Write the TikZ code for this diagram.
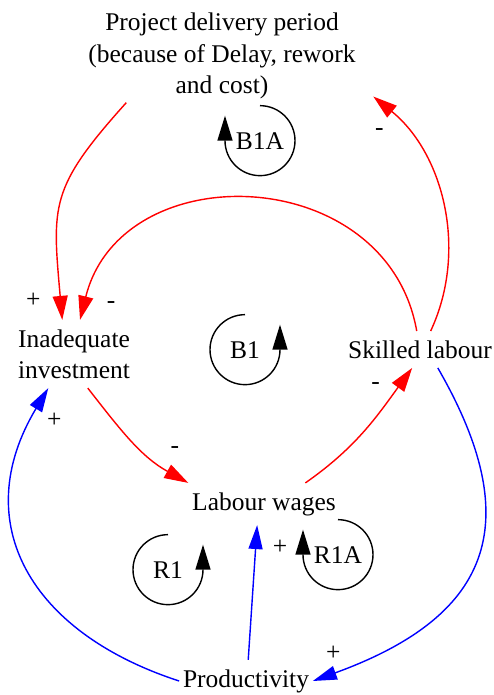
\documentclass[tikz,border=0pt]{standalone}
\usepackage{fontspec}
\setmainfont{Liberation Serif}
\usetikzlibrary{arrows.meta}

\begin{document}
\begin{tikzpicture}[
    var/.style={rectangle, align=center, inner xsep=2pt, inner ysep=5.2pt, font=\fontsize{14.5}{17.8}\selectfont},
    loopname/.style={circle, minimum size=1.4cm, inner sep=0pt, font=\fontsize{14.5}{17.8}\selectfont},
    sign/.style={inner sep=1pt, pos=1, font=\fontsize{14.5}{17.8}\selectfont},
    redlink/.style={-{Triangle[length=0.48cm,width=0.3cm]}, draw=red, line width=0.8pt},
    bluelink/.style={-{Triangle[length=0.48cm,width=0.28cm]}, draw=blue, line width=0.8pt},
    looparrow/.style={-{Triangle[length=0.5cm,width=0.3cm]}, line width=0.8pt}
]
\useasboundingbox (0,0) rectangle (9.88,13.9);

% variables
\node[var, inner ysep=2pt, minimum width=6.04cm] (proj) at (4.44,12.78) {Project delivery period\\(because of Delay, rework\\and cost)};
\node[var] (inv) at (1.48,6.82) {Inadequate\\investment};
\node[var] (skl) at (8.40,6.91) {Skilled labour};
\node[var] (wag) at (5.28,3.82) {Labour wages};
\node[var] (prod) at (4.92,0.28) {Productivity};

% loop markers
\node[loopname] (b1a) at (5.20,11.08) {B1A};
\node[loopname] (b1) at (4.90,6.90) {B1};
\node[loopname] (r1) at (3.36,2.50) {R1};
\node[loopname] (r1a) at (6.76,2.80) {R1A};

\draw[looparrow] (b1a.90) arc[start angle=90, end angle=-180, radius=0.7cm] -- ++(0,0.5);
\draw[looparrow] (b1.90) arc[start angle=90, end angle=360, radius=0.7cm] -- ++(0,0.5);
\draw[looparrow] (r1.90) arc[start angle=90, end angle=360, radius=0.7cm] -- ++(0,0.5);
\draw[looparrow] (r1a.90) arc[start angle=90, end angle=-180, radius=0.7cm] -- ++(0,0.5);

% links
\draw[redlink] (proj.206) to[out=228, in=95, looseness=1.3] node[sign, xshift=-0.58cm, yshift=0.40cm] {+} (inv.109);
\draw[redlink] (skl.100) to[out=100, in=76, looseness=1.3] node[sign, xshift=0.62cm, yshift=0.30cm] {-} (inv.80);
\draw[redlink] (skl.60) to[out=65, in=-39, looseness=0.95] node[sign, xshift=0.12cm, yshift=-0.70cm] {-} (proj.345);
\draw[redlink] (inv.292) to[out=-52, in=151] node[sign, xshift=-0.27cm, yshift=0.66cm] {-} (wag.north west);
\draw[redlink] (wag.27) to[out=35, in=234] node[sign, xshift=-0.73cm, yshift=-0.36cm] {-} (skl.247);
\draw[bluelink] (skl.314) to[out=-60, in=20, looseness=1.4] node[sign, xshift=0.41cm, yshift=0.56cm] {+} (prod.east);
\draw[bluelink] (prod.west) to[out=162, in=239, looseness=1.25] node[sign, xshift=0.12cm, yshift=-0.64cm] {+} (inv.233);
\draw[bluelink] (prod.84) -- node[sign, xshift=0.46cm, yshift=-0.44cm] {+} (wag.252);

\end{tikzpicture}
\end{document}
